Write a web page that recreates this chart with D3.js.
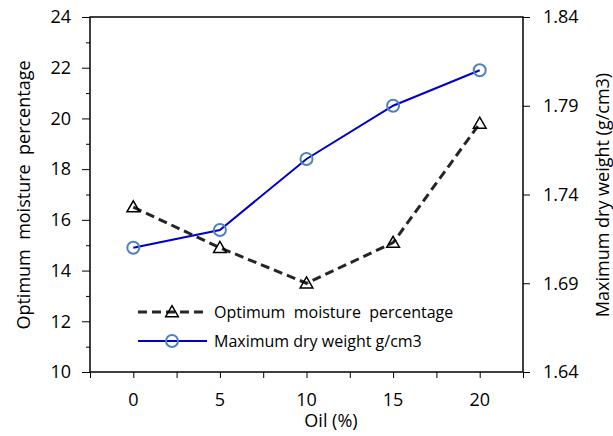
<!DOCTYPE html>
<html lang="en">
<head>
  <meta charset="UTF-8">
  <title>Oil vs moisture and dry weight</title>
  <script src="https://d3js.org/d3.v7.min.js"></script>
  <style>
    body {
      margin: 0;
      padding: 0;
      background: #fff;
    }
    svg text {
      font-family: "Open Sans", sans-serif;
      fill: #000;
    }
    .tick line, .frame {
      stroke: #000;
    }
  </style>
</head>
<body>
  <div id="chart"></div>

  <script>
    // values
    const oil = [0, 5, 10, 15, 20];
    const moisture = [16.5, 14.9, 13.5, 15.1, 19.8];
    const dryWeight = [1.71, 1.72, 1.76, 1.79, 1.81];

    const xTicks = [-2.5, 0, 2.5, 5, 7.5, 10, 12.5, 15, 17.5, 20, 22.5];
    const xLabels = [0, 5, 10, 15, 20];
    const leftTicks = [10, 12, 14, 16, 18, 20, 22, 24];
    const leftMinor = [11, 13, 15, 17, 19, 21, 23];
    const rightTicks = [1.64, 1.69, 1.74, 1.79, 1.84];

    const width = 613, height = 436;
    const plotLeft = 90, plotRight = 523, plotTop = 17, plotBottom = 372;

    const svg = d3.select("#chart").append("svg")
      .attr("width", width)
      .attr("height", height);

    const x = d3.scaleLinear().domain([-2.5, 22.5]).range([plotLeft, plotRight]);
    const yL = d3.scaleLinear().domain([10, 24]).range([plotBottom, plotTop]);
    const yR = d3.scaleLinear().domain([1.64, 1.84]).range([plotBottom, plotTop]);

    // x axis ticks (no labels), labels placed separately
    const xAxis = svg.append("g")
      .attr("transform", `translate(0,${plotBottom})`)
      .call(d3.axisBottom(x).tickValues(xTicks).tickSize(6).tickFormat(""));
    xAxis.select(".domain").remove();

    svg.append("g").selectAll("text")
      .data(xLabels)
      .enter().append("text")
      .attr("x", d => x(d))
      .attr("y", 406)
      .attr("text-anchor", "middle")
      .style("font-size", "18px")
      .text(d => d);

    // left axis
    const yAxisMinor = svg.append("g")
      .attr("transform", `translate(${plotLeft},0)`)
      .call(d3.axisLeft(yL).tickValues(leftMinor).tickSize(4).tickFormat(""));
    yAxisMinor.select(".domain").remove();

    const yAxis = svg.append("g")
      .attr("transform", `translate(${plotLeft},0)`)
      .call(d3.axisLeft(yL).tickValues(leftTicks).tickSize(8).tickPadding(11));
    yAxis.select(".domain").remove();
    yAxis.selectAll("text").style("font-size", "18px");

    // right axis
    const yAxisR = svg.append("g")
      .attr("transform", `translate(${plotRight},0)`)
      .call(d3.axisRight(yR).tickValues(rightTicks).tickSize(7).tickPadding(13).tickFormat(d3.format(".2f")));
    yAxisR.select(".domain").remove();
    yAxisR.selectAll("text").style("font-size", "18px");

    // frame
    svg.append("rect")
      .attr("class", "frame")
      .attr("x", plotLeft)
      .attr("y", plotTop)
      .attr("width", plotRight - plotLeft)
      .attr("height", plotBottom - plotTop)
      .attr("fill", "none")
      .attr("stroke-width", 1.5);

    // axis titles
    svg.append("text")
      .attr("transform", `translate(24,195) rotate(-90)`)
      .attr("text-anchor", "middle")
      .attr("dy", "0.35em")
      .style("font-size", "18px")
      .style("white-space", "pre")
      .text("Optimum  moisture  percentage");

    svg.append("text")
      .attr("transform", `translate(603,195) rotate(-90)`)
      .attr("text-anchor", "middle")
      .attr("dy", "0.35em")
      .style("font-size", "18px")
      .text("Maximum dry weight (g/cm3)");

    svg.append("text")
      .attr("x", 331)
      .attr("y", 427)
      .attr("text-anchor", "middle")
      .style("font-size", "18px")
      .text("Oil (%)");

    // series
    const blueLine = d3.line()
      .x((d, i) => x(oil[i]))
      .y(d => yR(d));
    const dashLine = d3.line()
      .x((d, i) => x(oil[i]))
      .y(d => yL(d));

    const triangle = d3.symbol().type(d3.symbolTriangle).size(70);

    svg.append("path")
      .datum(dryWeight)
      .attr("d", blueLine)
      .attr("fill", "none")
      .attr("stroke", "#0000cc")
      .attr("stroke-width", 2);

    svg.selectAll(".dry-pt")
      .data(dryWeight)
      .enter().append("circle")
      .attr("class", "dry-pt")
      .attr("cx", (d, i) => x(oil[i]))
      .attr("cy", d => yR(d))
      .attr("r", 6)
      .attr("fill", "none")
      .attr("stroke", "#4f81bd")
      .attr("stroke-width", 2);

    svg.append("path")
      .datum(moisture)
      .attr("d", dashLine)
      .attr("fill", "none")
      .attr("stroke", "#262626")
      .attr("stroke-width", 3)
      .attr("stroke-dasharray", "9,5");

    svg.selectAll(".moist-pt")
      .data(moisture)
      .enter().append("path")
      .attr("class", "moist-pt")
      .attr("d", triangle)
      .attr("transform", (d, i) => `translate(${x(oil[i])},${yL(d) + 1})`)
      .attr("fill", "none")
      .attr("stroke", "#000")
      .attr("stroke-width", 1.5);

    // legend
    const legend = svg.append("g");
    legend.append("line")
      .attr("x1", 138).attr("x2", 207)
      .attr("y1", 312).attr("y2", 312)
      .attr("stroke", "#262626")
      .attr("stroke-width", 3)
      .attr("stroke-dasharray", "9,5");
    legend.append("path")
      .attr("d", triangle)
      .attr("transform", "translate(172,313)")
      .attr("fill", "none")
      .attr("stroke", "#000")
      .attr("stroke-width", 1.5);
    legend.append("text")
      .attr("x", 214)
      .attr("y", 312)
      .attr("dy", "0.35em")
      .style("font-size", "16px")
      .style("white-space", "pre")
      .text("Optimum  moisture  percentage");

    legend.append("line")
      .attr("x1", 138).attr("x2", 207)
      .attr("y1", 341).attr("y2", 341)
      .attr("stroke", "#0000cc")
      .attr("stroke-width", 2);
    legend.append("circle")
      .attr("cx", 172)
      .attr("cy", 341)
      .attr("r", 6)
      .attr("fill", "none")
      .attr("stroke", "#4f81bd")
      .attr("stroke-width", 2);
    legend.append("text")
      .attr("x", 214)
      .attr("y", 341)
      .attr("dy", "0.35em")
      .style("font-size", "16px")
      .text("Maximum dry weight g/cm3");
  </script>
</body>
</html>
